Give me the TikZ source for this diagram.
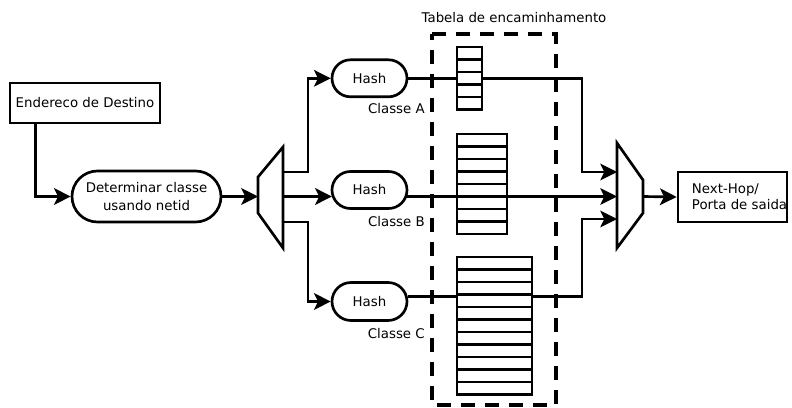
\documentclass[tikz,border=0pt]{standalone}
\usepackage{fontspec}
\setmainfont{DejaVu Sans}
\usetikzlibrary{arrows.meta,calc,shapes.misc}
\begin{document}
\begin{tikzpicture}[x=0.75pt,y=-0.75pt,
  font=\fontsize{10}{12}\selectfont,
  wire/.style={line width=2pt},
  arrowwire/.style={wire,-{Stealth[length=12.5pt,width=12.5pt,inset=3pt]}},
  plainbox/.style={draw,line width=2pt,rectangle,inner sep=0pt},
  pill/.style={draw,line width=2pt,rounded rectangle,inner sep=0pt},
  rowbox/.style={draw,line width=1.8pt,fill=white},
  tableframe/.style={line width=2.8pt,dash pattern=on 10.5pt off 7.5pt},
  classlabel/.style={anchor=east,inner sep=0pt}]
\useasboundingbox (0,0) rectangle (792,407);

% address input and class decision
\node[plainbox,minimum width=112.5pt,minimum height=30pt] (dest) at (85,103) {Endereco de Destino};
\node[pill,minimum width=111.75pt,minimum height=38.25pt,align=center,
      font=\fontsize{10}{13.75}\selectfont] (det) at (146.5,196.5) {Determinar classe\\usando netid};

% demultiplexer
\draw[wire,fill=white] (258,177) -- (283,147) -- (283,248) -- (258,213) -- cycle;
\coordinate (demuxIn) at (258,196.5);
\coordinate (demuxA) at (283,172);
\coordinate (demuxB) at (283,196.5);
\coordinate (demuxC) at (283,222);

% hash units per class
\node[pill,minimum width=56.25pt,minimum height=27.75pt] (hashA) at (369.5,78.3) {Hash};
\node[pill,minimum width=56.25pt,minimum height=27.75pt] (hashB) at (369.5,190) {Hash};
\node[pill,minimum width=56.25pt,minimum height=28.5pt] (hashC) at (369.5,301.5) {Hash};
\coordinate (hBin) at ($(hashB.west)+(1.2,6.5)$);
\coordinate (hBout) at ($(hashB.east)+(-1.2,6.5)$);
\coordinate (hCout) at ($(hashC.east)+(-0.7,-5)$);

\node[classlabel] (classA) at (425,108.3) {Classe A};
\node[classlabel] (classB) at (425,221.7) {Classe B};
\node[classlabel] (classC) at (425,333.3) {Classe C};

% multiplexer and result
\draw[wire,fill=white] (617,143) -- (643,180) -- (643,213) -- (617,248) -- cycle;
\coordinate (muxA) at (617,172);
\coordinate (muxB) at (617,196.5);
\coordinate (muxC) at (617,219);
\coordinate (muxOut) at (643,196.5);

\node[plainbox,minimum width=81.75pt,minimum height=37.5pt] (nexthop) at (732.5,197) {};
\node[anchor=west,align=left,inner sep=0pt] (nexthoptext) at ($(nexthop.west)+(15,0)$) {Next-Hop/\\Porta de saida};

% connectors
\draw[arrowwire] ($(dest.south west)+(27,0)$) |- (det.west);
\draw[arrowwire] (det.east) -- (demuxIn);
\draw[arrowwire] (demuxA) -- (308,172) |- (hashA.west);
\draw[arrowwire] (demuxB) -- (hBin);
\draw[arrowwire] (demuxC) -- (308,222) |- (hashC.west);
\draw[arrowwire] (hashA.east) -- (582,78.3) |- (muxA);
\draw[arrowwire] (hBout) -- (muxB);
\draw[arrowwire] (hCout) -- (582,296.5) |- (muxC);
\draw[arrowwire] (muxOut) -- (nexthop.west);

% forwarding tables, one per class
\foreach \xr/\top/\n in {482/47/5, 507/134/8, 532/257/11}{
  \foreach \k in {1,...,\n}{
    \draw[rowbox] (457,{\top+(\k-1)*12.5}) rectangle (\xr,{\top+\k*12.5});
  }
}

% table frame and title
\draw[tableframe] (432,34) -- (556,34) -- (556,405) -- (432,405) -- cycle;
\node (tabletitle) at (514,18) {Tabela de encaminhamento};
\end{tikzpicture}
\end{document}
